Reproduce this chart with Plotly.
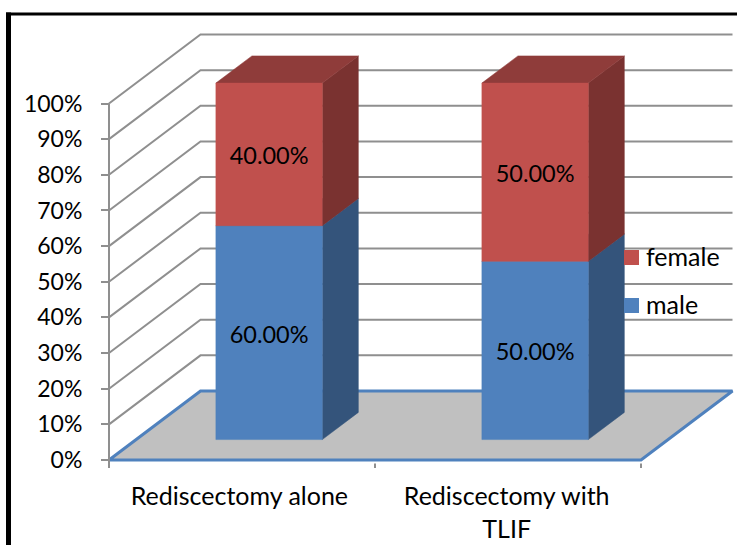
import plotly.graph_objects as go

categories = ["Rediscectomy alone", "Rediscectomy with<br>TLIF"]
male = [60, 50]
female = [40, 50]
y_ticks = [0, 10, 20, 30, 40, 50, 60, 70, 80, 90, 100]
y_labels = [f"{v}%" for v in y_ticks]

W, H = 737, 545
FONT = "Lato"
GRID = "#8F8F8F"
PX_X, PX_Y = 266.0, 3.565      # pixels per category band / per percent
X_LEFT, Y_ZERO = 109.0, 460.0  # pixel position of the front-left corner
DX, DY = 91.5 / PX_X, 69.0 / PX_Y  # full depth of the floor in data units
BAR_W = 0.40
BAR_D0, BAR_D1 = 0.296, 0.69   # depth span of the bars (fraction of floor)
LABEL_DROP = 4 / PX_Y          # data labels sit slightly under the segment centre

x_range = [-0.5 - X_LEFT / PX_X, -0.5 + (W - X_LEFT) / PX_X]
y_range = [(Y_ZERO - H) / PX_Y, Y_ZERO / PX_Y]


def proj(x, v, d=0.0):
    return x + DX * d, v + DY * d


def face(points, color, name):
    xs, ys = zip(*points)
    return go.Scatter(x=list(xs) + [xs[0]], y=list(ys) + [ys[0]], mode="lines", fill="toself",
                      fillcolor=color, line=dict(color=color, width=0.5), hoverinfo="skip",
                      name=name, showlegend=False)


fig = go.Figure()

# wall grid lines
for v in y_ticks[1:]:
    pts = [proj(-0.5, v, 0), proj(-0.5, v, 1), proj(1.5, v, 1)]
    fig.add_trace(go.Scatter(x=[p[0] for p in pts], y=[p[1] for p in pts], mode="lines",
                             line=dict(color=GRID, width=2), hoverinfo="skip", showlegend=False))

# floor
floor = [proj(-0.5, 0, 0), proj(1.5, 0, 0), proj(1.5, 0, 1), proj(-0.5, 0, 1)]
fig.add_trace(go.Scatter(x=[p[0] for p in floor + floor[:1]], y=[p[1] for p in floor + floor[:1]],
                         mode="lines", fill="toself", fillcolor="#C0C0C0",
                         line=dict(color="#4F81BD", width=3), hoverinfo="skip", showlegend=False))

# left axis line and bottom ticks
fig.add_trace(go.Scatter(x=[-0.5, -0.5], y=[100, -8 / PX_Y], mode="lines",
                         line=dict(color=GRID, width=2), hoverinfo="skip", showlegend=False))
for bx in [0.5, 1.5]:
    fig.add_trace(go.Scatter(x=[bx, bx], y=[-1, -8 / PX_Y], mode="lines",
                             line=dict(color=GRID, width=2), hoverinfo="skip", showlegend=False))


def box(xc, v0, v1, front, side, top, name):
    xl, xr = xc - BAR_W / 2, xc + BAR_W / 2
    a, b = BAR_D0, BAR_D1
    fig.add_trace(face([proj(xr, v0, a), proj(xr, v0, b), proj(xr, v1, b), proj(xr, v1, a)], side, name))
    fig.add_trace(face([proj(xl, v1, a), proj(xr, v1, a), proj(xr, v1, b), proj(xl, v1, b)], top, name))
    fig.add_trace(face([proj(xl, v0, a), proj(xr, v0, a), proj(xr, v1, a), proj(xl, v1, a)], front, name))


lab_x, lab_y, lab_t = [], [], []
for i in range(len(categories)):
    m, f = male[i], female[i]
    box(i, 0, m, "#4F81BD", "#34547B", "#3F6797", "male")
    box(i, m, m + f, "#C0504D", "#7A3230", "#8F3C3A", "female")
    for v0, val in ((0, m), (m, f)):
        px, py = proj(i, v0 + val / 2, BAR_D0)
        lab_x.append(px)
        lab_y.append(py - LABEL_DROP)
        lab_t.append(f"{val:.2f}%")

fig.add_trace(go.Scatter(x=lab_x, y=lab_y, text=lab_t, mode="text", textposition="middle center",
                         textfont=dict(family=FONT, size=23.5, color="#000000"),
                         hoverinfo="skip", showlegend=False))

# legend swatches and labels, black frame
shapes = [
    dict(type="rect", xref="paper", yref="paper", x0=6 / W, x1=11 / W, y0=0, y1=1 - 12.5 / H,
         fillcolor="#000000", line_width=0),
    dict(type="rect", xref="paper", yref="paper", x0=6 / W, x1=1, y0=1 - 15.5 / H, y1=1 - 12.5 / H,
         fillcolor="#000000", line_width=0),
    dict(type="rect", xref="paper", yref="paper", x0=624 / W, x1=639 / W, y0=1 - 265 / H, y1=1 - 250 / H,
         fillcolor="#C0504D", line_width=0),
    dict(type="rect", xref="paper", yref="paper", x0=624 / W, x1=639 / W, y0=1 - 313 / H, y1=1 - 298 / H,
         fillcolor="#4F81BD", line_width=0),
]
annotations = [
    dict(text=t, xref="paper", yref="paper", x=644 / W, y=1 - yy / H, xanchor="left", yanchor="middle",
         showarrow=False, font=dict(family=FONT, size=25, color="#000000"))
    for t, yy in (("female", 256), ("male", 304))
]

fig.update_layout(
    width=W, height=H, margin=dict(l=0, r=0, t=0, b=0), autosize=False,
    paper_bgcolor="#FFFFFF", plot_bgcolor="#FFFFFF", showlegend=False,
    shapes=shapes, annotations=annotations,
    font=dict(family=FONT, size=23, color="#000000"),
    xaxis=dict(range=x_range, domain=[0, 1], anchor="free", position=(H - Y_ZERO) / H,
               tickmode="array", tickvals=[-0.01, 0.995], ticktext=categories, ticks="",
               tickfont=dict(family=FONT, size=25), ticklabelstandoff=19,
               showgrid=False, zeroline=False, showline=False, fixedrange=True),
    yaxis=dict(range=y_range, domain=[0, 1], anchor="free", position=X_LEFT / W,
               tickmode="array", tickvals=y_ticks, ticktext=y_labels, ticks="outside", ticklen=8,
               tickwidth=2, tickcolor=GRID, tickfont=dict(family=FONT, size=23), ticklabelstandoff=14,
               showgrid=False, zeroline=False, showline=False, fixedrange=True),
)

fig.write_html("out.html", config=dict(displayModeBar=False),
               post_script="document.body.style.margin='0';document.body.style.overflow='hidden';")
